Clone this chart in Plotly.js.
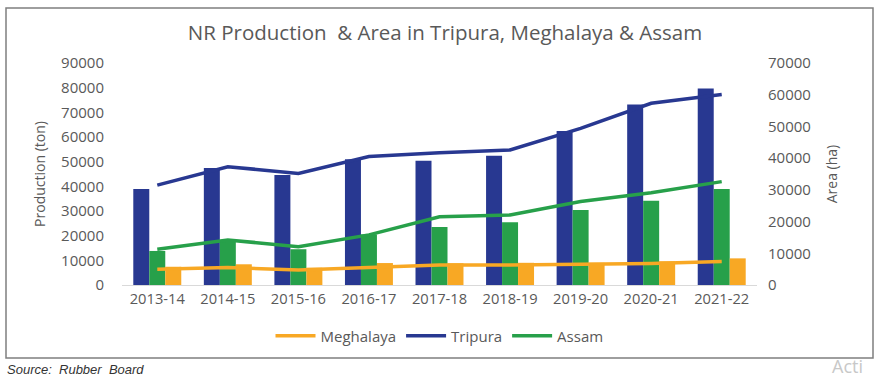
<!DOCTYPE html>
<html>
<head>
<meta charset="utf-8">
<script src="https://cdn.plot.ly/plotly-3.0.1.min.js"></script>
<style>html,body{margin:0;padding:0;background:#fff;}#chart{width:890px;height:378px;}</style>
</head>
<body>
<div id="chart"></div>
<script>
const years = ["2013-14","2014-15","2015-16","2016-17","2017-18","2018-19","2019-20","2020-21","2021-22"];
// Production (ton) - bars, left axis
const prodTripura   = [38900, 47400, 44600, 51000, 50400, 52400, 62400, 73200, 79700];
const prodAssam     = [13800, 18200, 14500, 20500, 23500, 25400, 30400, 34200, 38900];
const prodMeghalaya = [7400, 8400, 7000, 8900, 8800, 9000, 9000, 9600, 10800];
// Area (ha) - lines, right axis
const areaMeghalaya = [4950, 5500, 4700, 5500, 6300, 6300, 6600, 6800, 7400];
const areaTripura   = [31500, 37300, 35200, 40500, 41700, 42600, 49400, 57300, 60100];
const areaAssam     = [11300, 14200, 12100, 15800, 21500, 22100, 26300, 29100, 32600];
const leftTicks  = [0,10000,20000,30000,40000,50000,60000,70000,80000,90000];
const rightTicks = [0,10000,20000,30000,40000,50000,60000,70000];

const navy = "#283891", green = "#27A04A", orange = "#F8A824";
const grey = "#595959";

const traces = [
  {type:"bar", x:years, y:prodTripura, marker:{color:navy}, showlegend:false, name:"Tripura"},
  {type:"bar", x:years, y:prodAssam, marker:{color:green}, showlegend:false, name:"Assam"},
  {type:"bar", x:years, y:prodMeghalaya, marker:{color:orange}, showlegend:false, name:"Meghalaya"},
  {type:"scatter", mode:"lines", x:years, y:areaMeghalaya, yaxis:"y2", name:"Meghalaya", line:{color:orange, width:3.5}},
  {type:"scatter", mode:"lines", x:years, y:areaTripura, yaxis:"y2", name:"Tripura", line:{color:navy, width:3.5}},
  {type:"scatter", mode:"lines", x:years, y:areaAssam, yaxis:"y2", name:"Assam", line:{color:green, width:3.5}}
];

const px = v => (v - 122) / 635;
const py = v => (285 - v) / 222;

const layout = {
  width: 890, height: 378,
  margin: {l:122, r:133, t:63, b:93, pad:0},
  paper_bgcolor:"#fff", plot_bgcolor:"#fff",
  font: {family:"Open Sans, sans-serif", color:grey, size:15},
  title: {text:"NR Production  & Area in Tripura, Meghalaya & Assam", font:{size:20.5, color:grey}, x:0.5, xanchor:"center", y:1-33/378, yanchor:"middle"},
  barmode:"group", bargap:0.32, bargroupgap:0,
  xaxis: {type:"category", showgrid:false, showline:true, linecolor:"#d9d9d9", linewidth:1, ticks:"", tickfont:{size:14.7, color:grey}, zeroline:false, fixedrange:true},
  yaxis: {range:[0,90000], tickvals:leftTicks, ticktext:leftTicks.map(String), showgrid:false, zeroline:false, showline:false, ticks:"", tickfont:{size:15, color:grey}, ticklabelstandoff:17,
          title:{text:"Production (ton)", font:{size:14, color:grey}, standoff:12}},
  yaxis2: {range:[0,70000], overlaying:"y", side:"right", tickvals:rightTicks, ticktext:rightTicks.map(String), showgrid:false, zeroline:false, showline:false, ticks:"", tickfont:{size:15, color:grey}, ticklabelstandoff:10,
          title:{text:"Area (ha)", font:{size:14, color:grey}, standoff:17}},
  legend: {orientation:"h", x:0.5, xanchor:"center", y:py(336), yanchor:"middle", font:{size:15, color:grey}, traceorder:"normal", itemwidth:40},
  shapes: [
    {type:"rect", xref:"paper", yref:"paper", x0:px(6), x1:px(873), y0:py(358), y1:py(8), line:{color:"#7f7f7f", width:1.5}, fillcolor:"rgba(0,0,0,0)", layer:"below"}
  ],
  annotations: [
    {xref:"paper", yref:"paper", x:px(5), y:py(370), xanchor:"left", yanchor:"middle", showarrow:false, text:"<i>Source:  Rubber  Board</i>", font:{family:"Liberation Sans, Arial, sans-serif", size:13, color:"#333"}},
    {xref:"paper", yref:"paper", x:px(830), y:py(366), xanchor:"left", yanchor:"middle", showarrow:false, text:"Acti", font:{family:"Open Sans, sans-serif", size:18, color:"#c8c8c8"}}
  ]
};

Plotly.newPlot("chart", traces, layout, {displayModeBar:false, staticPlot:true});
</script>
</body>
</html>
